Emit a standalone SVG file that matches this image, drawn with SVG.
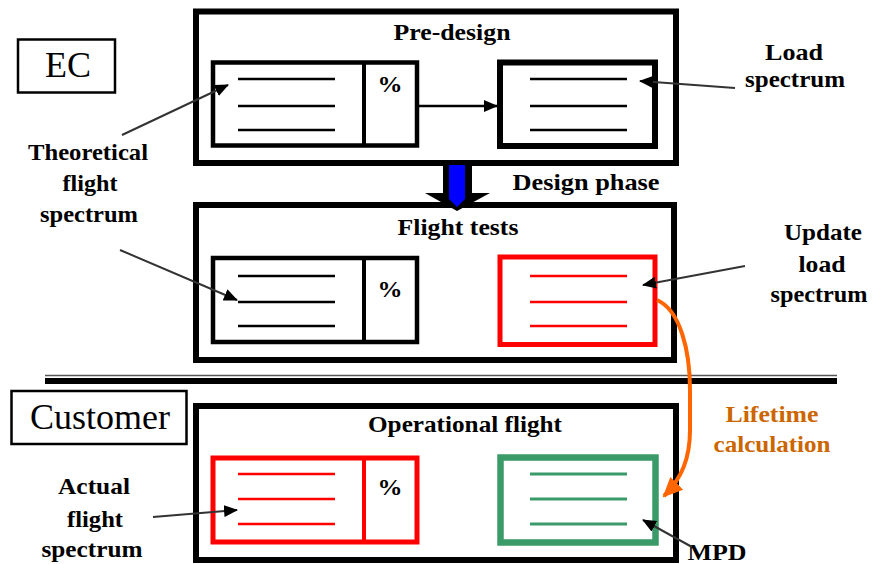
<svg xmlns="http://www.w3.org/2000/svg" width="874" height="564" viewBox="0 0 874 564">
<style>
.lbl{font-family:"Liberation Serif","Times New Roman",serif;font-weight:bold;font-size:23px;fill:#000;text-anchor:middle}
.big{font-family:"Liberation Serif","Times New Roman",serif;font-size:36px;fill:#000;text-anchor:middle}
.outer{fill:none;stroke:#000;stroke-width:6}
.inner{fill:none;stroke:#000;stroke-width:4.5}
.line{stroke:#000;stroke-width:2.5}
.red{fill:none;stroke:#ff0000;stroke-width:5}
.rline{stroke:#ff0000;stroke-width:2.5}
.green{fill:none;stroke:#3a9a68;stroke-width:6.5}
.gline{stroke:#3a9a68;stroke-width:3}
.call{stroke:#333;stroke-width:2;fill:none}
.orange{fill:#cc6600}
</style>
<defs>
<marker id="ah" markerUnits="userSpaceOnUse" markerWidth="14" markerHeight="12" refX="13" refY="6" orient="auto">
<path d="M0,0 L14,6 L0,12 Z" fill="#000"/>
</marker>
<marker id="ao" markerUnits="userSpaceOnUse" markerWidth="20" markerHeight="18" refX="18" refY="9" orient="auto">
<path d="M0,0 L20,9 L0,18 Z" fill="#ff6600"/>
</marker>
</defs>

<g id="ec-label">
<rect x="18" y="39.5" width="97" height="53" fill="none" stroke="#000" stroke-width="2.5"/>
<text class="big" x="68" y="77">EC</text>
</g>

<g id="customer-label">
<rect x="11.5" y="391" width="175" height="53" fill="none" stroke="#000" stroke-width="2.5"/>
<text class="big" x="100" y="429">Customer</text>
</g>

<g id="separator">
<line x1="45" y1="375.5" x2="837" y2="375.5" stroke="#555" stroke-width="1.5"/>
<line x1="45" y1="381" x2="837" y2="381" stroke="#000" stroke-width="6"/>
</g>

<g id="pre-design">
<rect class="outer" x="196" y="11.5" width="480" height="151.5"/>
<text class="lbl" x="452" y="40" textLength="117" lengthAdjust="spacingAndGlyphs">Pre-design</text>
</g>
<g id="pre-design-theoretical">
<rect class="inner" x="213" y="62.5" width="204" height="83"/>
<line x1="364" y1="62.5" x2="364" y2="145.5" stroke="#000" stroke-width="4"/>
<line class="line" x1="238" y1="79" x2="335" y2="79"/>
<line class="line" x1="238" y1="106" x2="335" y2="106"/>
<line class="line" x1="238" y1="130" x2="335" y2="130"/>
<text class="lbl" x="390" y="92" textLength="25" lengthAdjust="spacingAndGlyphs">%</text>
</g>
<g id="pre-design-load">
<rect x="500" y="62.5" width="155" height="83.5" fill="none" stroke="#000" stroke-width="6"/>
<line class="line" x1="530" y1="79" x2="627" y2="79"/>
<line class="line" x1="530" y1="106" x2="627" y2="106"/>
<line class="line" x1="530" y1="130" x2="627" y2="130"/>
</g>

<g id="flight-tests">
<rect class="outer" x="196" y="205" width="478" height="155"/>
<text class="lbl" x="458" y="235" textLength="121" lengthAdjust="spacingAndGlyphs">Flight tests</text>
</g>
<g id="flight-tests-theoretical">
<rect class="inner" x="213" y="258" width="204" height="84"/>
<line x1="364" y1="258" x2="364" y2="342" stroke="#000" stroke-width="4"/>
<line class="line" x1="238" y1="276" x2="335" y2="276"/>
<line class="line" x1="238" y1="302" x2="335" y2="302"/>
<line class="line" x1="238" y1="326" x2="335" y2="326"/>
<text class="lbl" x="390" y="297" textLength="25" lengthAdjust="spacingAndGlyphs">%</text>
</g>
<g id="flight-tests-update">
<rect class="red" x="500" y="257" width="155" height="87.5" stroke-width="6"/>
<line class="rline" x1="530" y1="276" x2="627" y2="276"/>
<line class="rline" x1="530" y1="302" x2="627" y2="302"/>
<line class="rline" x1="530" y1="326" x2="627" y2="326"/>
</g>

<g id="operational-flight">
<rect class="outer" x="196" y="406" width="480" height="154"/>
<text class="lbl" x="465" y="432" textLength="194" lengthAdjust="spacingAndGlyphs">Operational flight</text>
</g>
<g id="operational-actual">
<rect class="red" x="213" y="458" width="204" height="84"/>
<line x1="364" y1="458" x2="364" y2="542" stroke="#ff0000" stroke-width="4"/>
<line class="rline" x1="238" y1="474" x2="335" y2="474"/>
<line class="rline" x1="238" y1="499" x2="335" y2="499"/>
<line class="rline" x1="238" y1="524" x2="335" y2="524"/>
<text class="lbl" x="390" y="495" textLength="25" lengthAdjust="spacingAndGlyphs">%</text>
</g>
<g id="operational-mpd">
<rect class="green" x="500.5" y="457.5" width="155" height="85"/>
<line class="gline" x1="530" y1="474" x2="627" y2="474"/>
<line class="gline" x1="530" y1="499" x2="627" y2="499"/>
<line class="gline" x1="530" y1="524" x2="627" y2="524"/>
</g>

<g id="design-phase-arrow">
<path d="M443,163 L472,163 L472,193 L490,193 L457,211 L425,193 L443,193 Z" fill="#000"/>
<path d="M449,165 L465,165 L465,199 L457,207 L449,199 Z" fill="#0000ff"/>
<text class="lbl" x="586" y="190" textLength="147" lengthAdjust="spacingAndGlyphs">Design phase</text>
</g>

<g id="labels">
<text class="lbl" x="794" y="60" textLength="58" lengthAdjust="spacingAndGlyphs">Load</text>
<text class="lbl" x="795" y="87" textLength="100" lengthAdjust="spacingAndGlyphs">spectrum</text>
<text class="lbl" x="88" y="160" textLength="120" lengthAdjust="spacingAndGlyphs">Theoretical</text>
<text class="lbl" x="90" y="191" textLength="55" lengthAdjust="spacingAndGlyphs">flight</text>
<text class="lbl" x="89" y="222" textLength="98" lengthAdjust="spacingAndGlyphs">spectrum</text>
<text class="lbl" x="823" y="240" textLength="78" lengthAdjust="spacingAndGlyphs">Update</text>
<text class="lbl" x="822" y="272" textLength="47" lengthAdjust="spacingAndGlyphs">load</text>
<text class="lbl" x="819" y="302" textLength="97" lengthAdjust="spacingAndGlyphs">spectrum</text>
<text class="lbl" x="94" y="494" textLength="72" lengthAdjust="spacingAndGlyphs">Actual</text>
<text class="lbl" x="95" y="527" textLength="56" lengthAdjust="spacingAndGlyphs">flight</text>
<text class="lbl" x="92" y="557" textLength="101" lengthAdjust="spacingAndGlyphs">spectrum</text>
<text class="lbl" x="717" y="560" textLength="59" lengthAdjust="spacingAndGlyphs">MPD</text>
<text class="lbl orange" x="772" y="422" textLength="93" lengthAdjust="spacingAndGlyphs">Lifetime</text>
<text class="lbl orange" x="772" y="452" textLength="117" lengthAdjust="spacingAndGlyphs">calculation</text>
</g>

<g id="connectors">
<line x1="419" y1="106" x2="497" y2="106" stroke="#000" stroke-width="2.5" marker-end="url(#ah)"/>
<line class="call" x1="122" y1="135" x2="228" y2="85" marker-end="url(#ah)"/>
<line class="call" x1="735" y1="88" x2="640" y2="81" marker-end="url(#ah)"/>
<line class="call" x1="120" y1="250" x2="237" y2="300" marker-end="url(#ah)"/>
<line class="call" x1="745" y1="266" x2="643" y2="285" marker-end="url(#ah)"/>
<line class="call" x1="153" y1="517" x2="237" y2="510" marker-end="url(#ah)"/>
<line class="call" x1="692" y1="547" x2="643" y2="520" marker-end="url(#ah)"/>
<path d="M657,300 C680,310 690,350 690,390 L690,430 C690,458 682,478 664,496" fill="none" stroke="#ff6600" stroke-width="4" marker-end="url(#ao)"/>
</g>
</svg>
